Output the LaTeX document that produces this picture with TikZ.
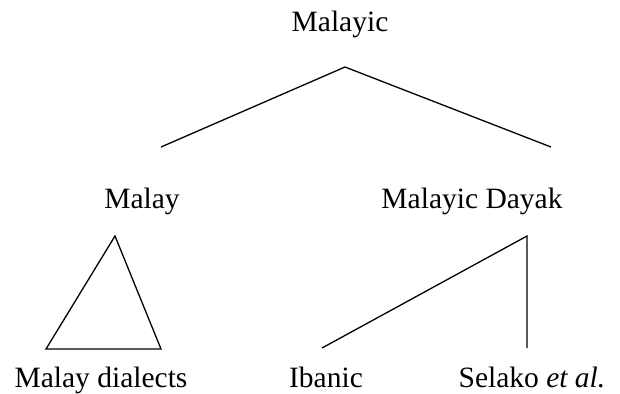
\documentclass[tikz,border=0pt]{standalone}
\usepackage{fontspec}
\setmainfont{Liberation Serif}
\usetikzlibrary{positioning}

\begin{document}
\begin{tikzpicture}[
    x=1bp, y=-1bp,
    line width=1.3bp,
    font=\fontsize{29.5bp}{34bp}\selectfont,
    lang/.style={anchor=base, inner sep=0pt}
    ]
\useasboundingbox (0,0) rectangle (620,393);

\node[lang] (malayic) at (340,31) {Malayic};
\node[lang] (malay)   at (142,208) {Malay};
\node[lang] (dayak)   at (472,208) {Malayic Dayak};
\node[lang] (dialects) at (101,387) {Malay dialects};
\node[lang] (ibanic)  at (326,387) {Ibanic};
\node[lang] (selako)  at (532,387) {Selako \textit{et al.}};

\coordinate (top-fork)  at (345,67);
\coordinate (malay-in)  at (161,147);
\coordinate (dayak-in)  at (551,147);
\coordinate (tri-top)   at (115,236);
\coordinate (tri-left)  at (46,349);
\coordinate (tri-right) at (161,349);
\coordinate (dayak-fork) at (527,236);
\coordinate (ibanic-in) at (322,348);
\coordinate (selako-in) at (527,348);

\draw (malay-in) -- (top-fork) -- (dayak-in);
\draw (tri-top) -- (tri-left) -- (tri-right) -- cycle;
\draw (ibanic-in) -- (dayak-fork) -- (selako-in);

\end{tikzpicture}
\end{document}
